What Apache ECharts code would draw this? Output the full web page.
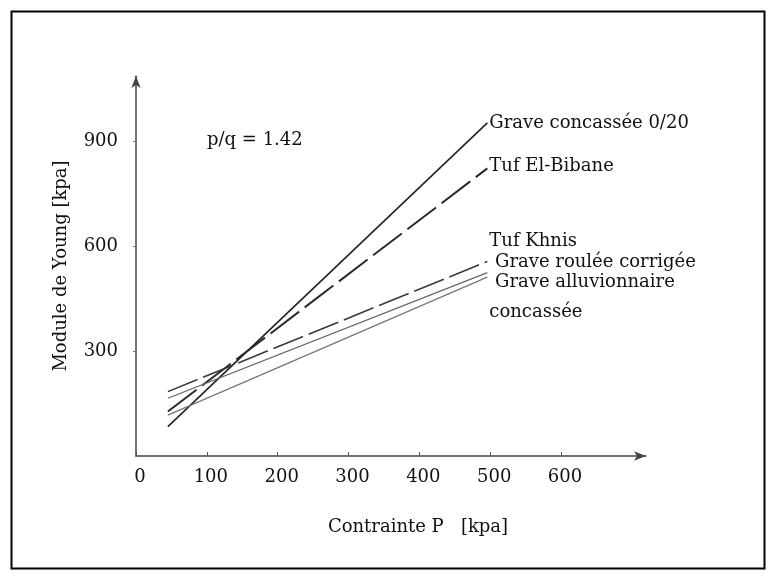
<!DOCTYPE html>
<html>
<head>
<meta charset="utf-8">
<script src="https://cdn.jsdelivr.net/npm/echarts@6/dist/echarts.min.js"></script>
<style>
html,body{margin:0;padding:0;background:#fff;}
#chart{width:772px;height:576px;}
</style>
</head>
<body>
<div id="chart"></div>
<script>
// ---- data ----
var seriesNames = ['Grave concassée 0/20', 'Tuf El-Bibane', 'Tuf Khnis', ' Grave roulée corrigée', ' Grave alluvionnaire\nconcassée'];
var concasseeData = [[45, 84], [496, 952]];
var elBibaneData = [[45, 127], [496, 822]];
var khnisData = [[45, 184], [496, 556]];
var rouleeData = [[45, 165], [496, 524]];
var alluvionnaireData = [[45, 117], [496, 511]];
var xTickValues = [0, 100, 200, 300, 400, 500, 600];
var yTickValues = [300, 600, 900];
var annotationText = 'p/q = 1.42';
var xTitle = 'Contrainte P   [kpa]';
var yTitle = 'Module de Young [kpa]';

var FONT = 'DejaVu Serif';
var chart = echarts.init(document.getElementById('chart'), null, {renderer: 'canvas'});

function lineSeries(name, data, color, width, dash, labelOffset, lineHeight) {
  return {
    type: 'line',
    name: name,
    data: data,
    symbol: 'none',
    silent: true,
    animation: false,
    lineStyle: {color: color, width: width, type: dash || 'solid'},
    endLabel: {
      show: true,
      formatter: name,
      fontFamily: FONT,
      fontSize: 18,
      color: '#111',
      distance: 2,
      offset: labelOffset,
      lineHeight: lineHeight || 22
    }
  };
}

var option = {
  backgroundColor: '#fff',
  animation: false,
  grid: {left: 136, right: 126, top: 76, bottom: 120, containLabel: false},
  xAxis: {
    type: 'value',
    min: 0,
    max: 720,
    interval: 100,
    splitLine: {show: false},
    axisLine: {show: true, lineStyle: {color: '#444', width: 1.5}, symbol: ['none', 'arrow'], symbolSize: [7, 12]},
    axisTick: {show: true, inside: true, length: 4, lineStyle: {color: '#555'}, customValues: xTickValues},
    axisLabel: {show: true, customValues: xTickValues, fontFamily: FONT, fontSize: 18, color: '#111', margin: 12, padding: [0, 0, 0, 8]},
    name: xTitle,
    nameLocation: 'middle',
    nameGap: 62,
    nameTextStyle: {fontFamily: FONT, fontSize: 18, color: '#111', padding: [0, 0, 0, 54]}
  },
  yAxis: {
    type: 'value',
    min: 0,
    max: 1086,
    interval: 300,
    splitLine: {show: false},
    axisLine: {show: true, lineStyle: {color: '#444', width: 1.5}, symbol: ['none', 'arrow'], symbolSize: [7, 12]},
    axisTick: {show: true, length: 3, lineStyle: {color: '#777'}, customValues: yTickValues},
    axisLabel: {show: true, customValues: yTickValues, fontFamily: FONT, fontSize: 18, color: '#111', margin: 18},
    name: yTitle,
    nameLocation: 'middle',
    nameRotate: 90,
    nameGap: 66,
    nameTextStyle: {fontFamily: FONT, fontSize: 18, color: '#111', padding: [0, 0, 0, 0]}
  },
  graphic: [
    {type: 'rect', left: 9, top: 9, shape: {width: 753, height: 557}, style: {fill: 'none', stroke: '#000', lineWidth: 2}, silent: true},
    {type: 'text', left: 207, top: 131, style: {text: annotationText, font: '18px "' + FONT + '"', fill: '#111'}, silent: true}
  ],
  series: [
    lineSeries(seriesNames[0], concasseeData, '#222', 1.6, 'solid', [0, 0]),
    lineSeries(seriesNames[1], elBibaneData, '#2a2a2a', 2, [36, 7], [0, -2]),
    lineSeries(seriesNames[2], khnisData, '#3a3a3a', 1.6, [32, 6], [0, -20]),
    lineSeries(seriesNames[3], rouleeData, '#666', 1.3, 'solid', [0, -10]),
    lineSeries(seriesNames[4], alluvionnaireData, '#777', 1.3, 'solid', [0, 20], 30)
  ]
};
chart.setOption(option);
</script>
</body>
</html>
